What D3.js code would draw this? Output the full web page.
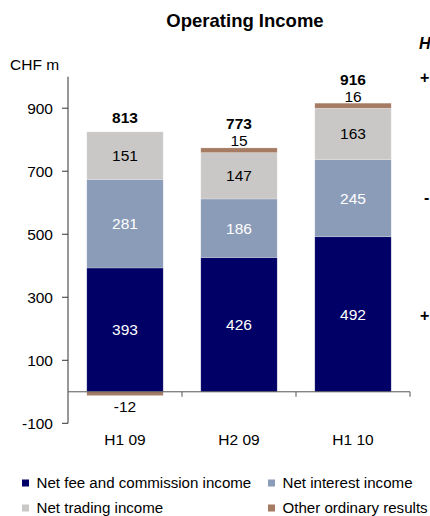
<!DOCTYPE html>
<html>
<head>
<meta charset="utf-8">
<script src="https://cdn.jsdelivr.net/npm/d3@7"></script>
<style>
  html, body { margin: 0; padding: 0; background: #ffffff; }
  svg { display: block; font-family: "Liberation Sans", Arial, sans-serif; }
</style>
</head>
<body>
<div id="chart"></div>
<script>
const categories = ['H1 09', 'H2 09', 'H1 10'];
const seriesKeys = ['fee', 'interest', 'trading', 'other'];
const seriesNames = ['Net fee and commission income', 'Net interest income', 'Net trading income', 'Other ordinary results'];
const feeIncome = [393, 426, 492];
const interestIncome = [281, 186, 245];
const tradingIncome = [151, 147, 163];
const otherResults = [-12, 15, 16];
const totals = [813, 773, 916];
const yTicks = [-100, 100, 300, 500, 700, 900];

const COLORS = { fee: '#000066', interest: '#8b9cb8', trading: '#c9c8c6', other: '#a57b63' };
const LABEL_FILL = { fee: '#ffffff', interest: '#ffffff', trading: '#000000', other: '#000000' };
const FONT = 15.5;

const width = 430;
const height = 516;

const rows = categories.map((c, i) => ({
    cat: c,
    fee: feeIncome[i],
    interest: interestIncome[i],
    trading: tradingIncome[i],
    other: otherResults[i],
    total: totals[i]
}));

const svg = d3.select('#chart').append('svg')
    .attr('width', width)
    .attr('height', height);

const x = d3.scaleBand().domain(categories).range([68, 410]).padding(0);
const y = d3.scaleLinear().domain([-100, 1000]).range([423.3, 76.7]);
const barW = x.bandwidth() * 0.67;
const barX = (c) => x(c) + (x.bandwidth() - barW) / 2;

// title + unit
svg.append('text')
    .attr('x', 245).attr('y', 21).attr('dy', '0.35em')
    .attr('text-anchor', 'middle')
    .attr('font-size', 18.5).attr('font-weight', 700)
    .text('Operating Income');

svg.append('text')
    .attr('x', 10).attr('y', 65).attr('dy', '0.35em')
    .attr('font-size', FONT)
    .text('CHF m');

// stacked bars (negative "other" goes below zero)
const stacked = d3.stack().keys(seriesKeys).offset(d3.stackOffsetDiverging)(rows);

const layers = svg.append('g').selectAll('g.layer')
    .data(stacked)
    .join('g')
    .attr('class', 'layer')
    .attr('fill', (s) => COLORS[s.key]);

layers.selectAll('rect')
    .data((s) => s)
    .join('rect')
    .attr('x', (d) => barX(d.data.cat))
    .attr('width', barW)
    .attr('y', (d) => y(Math.max(d[0], d[1])))
    .attr('height', (d) => Math.abs(y(d[0]) - y(d[1])))
    .attr('stroke', 'rgba(255,255,255,0.35)')
    .attr('stroke-width', 0.6);

// y axis
const yAxis = svg.append('g').attr('transform', 'translate(68,0)');
yAxis.append('line')
    .attr('x1', 0).attr('x2', 0)
    .attr('y1', y(1000)).attr('y2', y(-100))
    .attr('stroke', '#333');
yAxis.selectAll('line.tick')
    .data(yTicks)
    .join('line')
    .attr('class', 'tick')
    .attr('x1', -6).attr('x2', 0)
    .attr('y1', (d) => y(d)).attr('y2', (d) => y(d))
    .attr('stroke', '#333');
yAxis.selectAll('text')
    .data(yTicks)
    .join('text')
    .attr('x', -15).attr('y', (d) => y(d)).attr('dy', '0.35em')
    .attr('text-anchor', 'end')
    .attr('font-size', FONT)
    .text((d) => d);

// x axis along zero
const xAxis = svg.append('g');
xAxis.append('line')
    .attr('x1', x.range()[0]).attr('x2', x.range()[1])
    .attr('y1', y(0)).attr('y2', y(0))
    .attr('stroke', '#555');
xAxis.selectAll('line.tick')
    .data(categories)
    .join('line')
    .attr('class', 'tick')
    .attr('x1', (c) => x(c) + x.bandwidth()).attr('x2', (c) => x(c) + x.bandwidth())
    .attr('y1', y(0)).attr('y2', y(0) + 5)
    .attr('stroke', '#555');
xAxis.selectAll('text')
    .data(categories)
    .join('text')
    .attr('x', (c) => x(c) + x.bandwidth() / 2)
    .attr('y', 440).attr('dy', '0.35em')
    .attr('text-anchor', 'middle')
    .attr('font-size', FONT)
    .text((c) => c);

// segment labels
const labels = svg.append('g').attr('font-size', FONT).attr('text-anchor', 'middle');
stacked.forEach((s) => {
    s.forEach((d) => {
        const v = d.data[s.key];
        const cx = x(d.data.cat) + x.bandwidth() / 2;
        let ly;
        if (s.key === 'other') {
            ly = v >= 0 ? y(d[1]) - 7 : y(d[0]) + 11;
        } else {
            ly = y((d[0] + d[1]) / 2);
        }
        labels.append('text')
            .attr('x', cx).attr('y', ly).attr('dy', '0.35em')
            .attr('fill', LABEL_FILL[s.key])
            .text(v);
    });
});

// totals
const topOf = (r) => y(Math.max(0, r.fee) + Math.max(0, r.interest) + Math.max(0, r.trading) + Math.max(0, r.other));
svg.append('g').selectAll('text')
    .data(rows)
    .join('text')
    .attr('x', (r) => x(r.cat) + x.bandwidth() / 2)
    .attr('y', (r) => topOf(r) - (r.other > 0 ? 24 : 14))
    .attr('dy', '0.35em')
    .attr('text-anchor', 'middle')
    .attr('font-size', FONT).attr('font-weight', 700)
    .text((r) => r.total);

// legend, two columns
const legend = svg.append('g').attr('font-size', 15.1);
const legItems = legend.selectAll('g')
    .data(seriesKeys)
    .join('g')
    .attr('transform', (k, i) => `translate(${i % 2 === 0 ? 22 : 268},${483 + Math.floor(i / 2) * 25})`);
legItems.append('rect')
    .attr('x', 0).attr('y', -3.5)
    .attr('width', 7).attr('height', 7)
    .attr('fill', (k) => COLORS[k]);
legItems.append('text')
    .attr('x', 14.5).attr('dy', '0.35em')
    .text((k, i) => seriesNames[i]);

// cut-off text of the neighbouring panel at the right edge
svg.append('text')
    .attr('x', 419).attr('y', 43).attr('dy', '0.35em')
    .attr('font-size', 16).attr('font-weight', 700).attr('font-style', 'italic')
    .text('H');
const edge = svg.append('g').attr('font-size', 16).attr('font-weight', 700);
edge.append('text').attr('x', 420).attr('y', 77).attr('dy', '0.35em').text('+');
edge.append('text').attr('x', 424).attr('y', 197).attr('dy', '0.35em').text('-');
edge.append('text').attr('x', 420).attr('y', 315).attr('dy', '0.35em').text('+');
</script>
</body>
</html>
